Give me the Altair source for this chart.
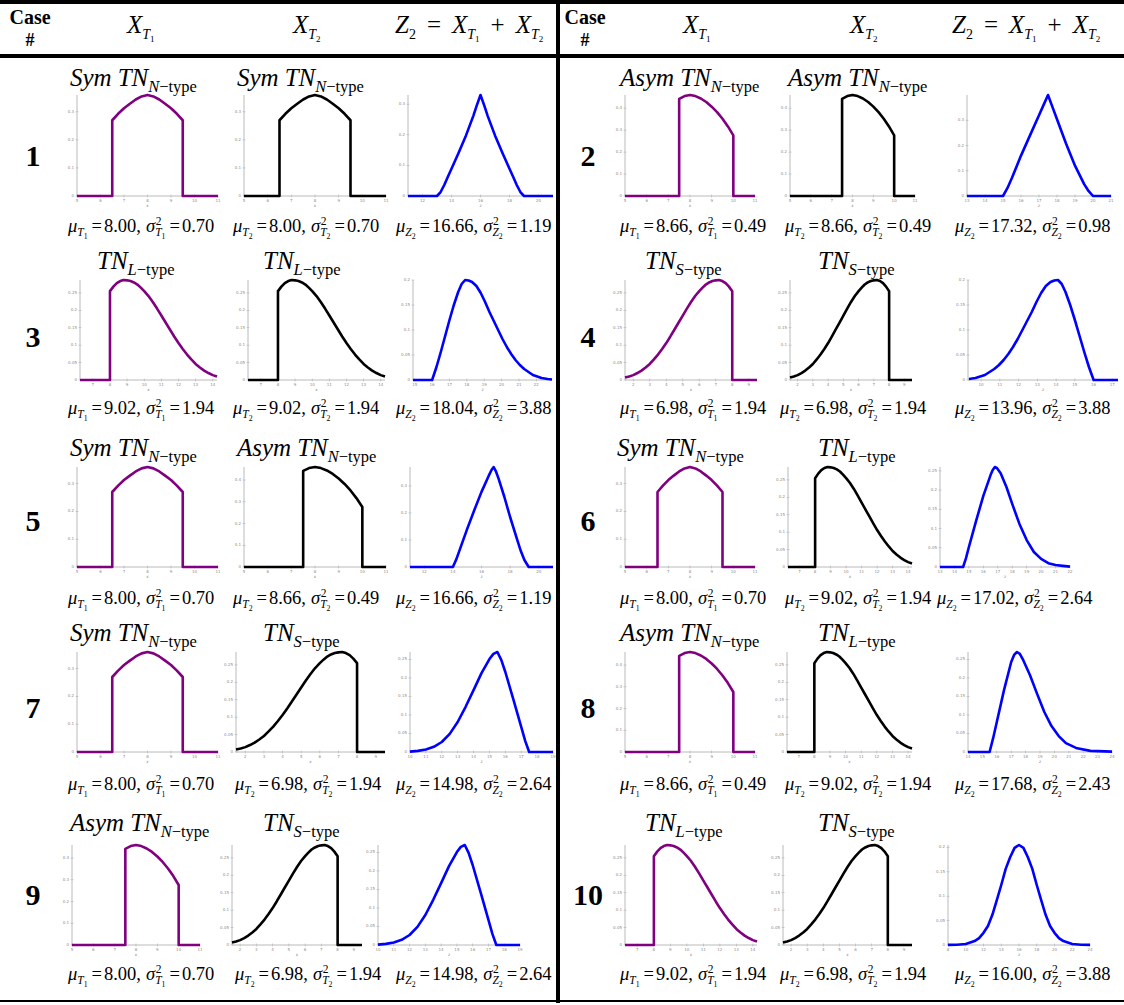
import altair as alt
import pandas as pd

W, H = 1124, 1005
FONT = "Liberation Serif"
AXIS_GRAY = "#a8a8a8"
LABEL_GRAY = "#8c8c8c"

# ---------------- component densities ----------------
SYM_N_X = [5, 6.5, 6.5, 6.75, 7.0, 7.25, 7.5, 7.75, 8.0, 8.25, 8.5, 8.75, 9.0, 9.25, 9.5, 9.5, 11]
SYM_N_Y = [0, 0, 0.270, 0.293, 0.313, 0.329, 0.344, 0.355, 0.360, 0.355, 0.344, 0.329, 0.313, 0.293, 0.270, 0, 0]

ASYM_N_X = [5, 7.5, 7.5, 7.75, 8.0, 8.25, 8.5, 8.75, 9.0, 9.25, 9.5, 9.75, 10, 10, 11]
ASYM_N_Y = [0, 0, 0.442, 0.455, 0.460, 0.455, 0.444, 0.428, 0.407, 0.382, 0.352, 0.317, 0.276, 0, 0]

L_X = [6.25, 8.0, 8.0, 8.2, 8.4, 8.6, 8.8, 9.0, 9.2, 9.4, 9.6, 9.8, 10.0, 10.25, 10.5, 10.75, 11.0,
       11.25, 11.5, 11.75, 12.0, 12.25, 12.5, 12.75, 13.0, 13.25, 13.5, 13.75, 14.0, 14.25]
L_Y = [0, 0, 0.255, 0.268, 0.278, 0.284, 0.287, 0.286, 0.284, 0.280, 0.274, 0.265, 0.255, 0.241, 0.224,
       0.205, 0.185, 0.165, 0.145, 0.125, 0.106, 0.089, 0.073, 0.059, 0.046, 0.036, 0.027, 0.020, 0.014,
       0.010]

S_X = [1.5, 1.75, 2.0, 2.25, 2.5, 2.75, 3.0, 3.25, 3.5, 3.75, 4.0, 4.25, 4.5, 4.75, 5.0, 5.25, 5.5,
       5.75, 6.0, 6.2, 6.4, 6.6, 6.8, 7.0, 7.2, 7.4, 7.6, 7.8, 8.0, 8.0, 9.5]
S_Y = [0.007, 0.010, 0.014, 0.020, 0.027, 0.036, 0.046, 0.059, 0.073, 0.089, 0.106, 0.125, 0.145, 0.165,
       0.185, 0.205, 0.224, 0.241, 0.255, 0.265, 0.274, 0.280, 0.284, 0.286, 0.287, 0.284, 0.278, 0.268,
       0.255, 0, 0]

# ---------------- densities of the sums Z2 ----------------
Z1_X = [11, 13, 13.25, 13.5, 13.75, 14, 14.5, 15, 15.5, 15.75, 16, 16.25, 16.5, 17, 17.5, 18, 18.25,
        18.5, 18.75, 19, 21]
Z1_Y = [0, 0, 0.013, 0.036, 0.063, 0.089, 0.142, 0.198, 0.261, 0.297, 0.330, 0.297, 0.261, 0.198,
        0.142, 0.089, 0.063, 0.036, 0.013, 0, 0]

Z2_X = [13, 15, 15.25, 15.5, 16, 16.5, 17, 17.25, 17.5, 17.75, 18, 18.5, 19, 19.5, 19.75, 20, 21]
Z2_Y = [0, 0, 0.032, 0.072, 0.160, 0.240, 0.320, 0.360, 0.400, 0.352, 0.304, 0.208, 0.120, 0.048,
        0.020, 0, 0]

Z3_X = [14.9, 16, 16.25, 16.5, 16.75, 17, 17.25, 17.5, 17.7, 17.9, 18.1, 18.3, 18.55, 18.8, 19.05, 19.3,
        19.55, 19.8, 20.05, 20.3, 20.55, 20.8, 21.05, 21.3, 21.55, 21.8, 22.05, 22.3, 22.65, 22.9]
Z3_Y = [0, 0, 0.026, 0.056, 0.088, 0.120, 0.150, 0.176, 0.192, 0.200, 0.199, 0.196, 0.188, 0.174, 0.156,
        0.136, 0.118, 0.100, 0.082, 0.066, 0.052, 0.040, 0.030, 0.022, 0.016, 0.010, 0.007, 0.004,
        0.002, 0.001]

Z4_X = [9.35, 9.7, 9.95, 10.2, 10.45, 10.7, 10.95, 11.2, 11.45, 11.7, 11.95, 12.2, 12.45, 12.7,
        12.95, 13.2, 13.45, 13.7, 13.9, 14.1, 14.3, 14.5, 14.75, 15, 15.25, 15.5, 15.75, 16, 17.3]
Z4_Y = [0.002, 0.004, 0.007, 0.010, 0.016, 0.022, 0.030, 0.040, 0.052, 0.066, 0.082, 0.100,
        0.118, 0.136, 0.156, 0.174, 0.188, 0.196, 0.199, 0.200, 0.192, 0.176, 0.150, 0.120, 0.088,
        0.056, 0.026, 0, 0]

Z5_X = [11, 14, 14.25, 14.5, 15, 15.5, 16, 16.5, 16.7, 16.85, 17.0, 17.2, 17.6, 18, 18.5, 18.75, 19,
        19.3, 21]
Z5_Y = [0, 0, 0.030, 0.067, 0.141, 0.211, 0.278, 0.337, 0.359, 0.370, 0.355, 0.326, 0.259, 0.185,
        0.100, 0.059, 0.026, 0, 0]

Z6_X = [13, 14.6, 14.8, 15, 15.5, 16, 16.5, 16.65, 16.8, 16.95, 17.2, 17.6, 18, 18.5, 19, 19.5, 20,
        20.5, 21, 21.5, 22]
Z6_Y = [0, 0, 0.023, 0.052, 0.120, 0.185, 0.239, 0.252, 0.260, 0.257, 0.244, 0.208, 0.164, 0.112,
        0.070, 0.039, 0.021, 0.010, 0.005, 0.003, 0.001]

Z7_X = [10, 10.5, 11, 11.5, 12, 12.5, 13, 13.5, 14, 14.5, 15, 15.25, 15.5, 15.75, 16, 16.5, 17,
        17.25, 17.5, 19]
Z7_Y = [0.001, 0.003, 0.007, 0.014, 0.027, 0.049, 0.081, 0.122, 0.167, 0.213, 0.251, 0.265, 0.270,
        0.248, 0.216, 0.143, 0.068, 0.030, 0, 0]

Z8_X = [14, 15.5, 15.75, 16, 16.5, 17, 17.2, 17.4, 17.6, 17.8, 18.3, 18.8, 19.3, 19.8, 20.3, 20.8,
        21.5, 22.5, 24]
Z8_Y = [0, 0, 0.038, 0.081, 0.167, 0.243, 0.262, 0.270, 0.265, 0.251, 0.208, 0.157, 0.108, 0.070,
        0.043, 0.024, 0.011, 0.003, 0.001]

Z10_X = [8, 9, 10, 11, 11.5, 12, 12.5, 13, 13.5, 14, 14.5, 15, 15.5, 16, 16.5, 17, 17.5, 18, 18.5,
         19, 19.5, 20, 20.5, 21, 22, 23, 24]
Z10_Y = [0.0002, 0.0006, 0.002, 0.008, 0.014, 0.025, 0.039, 0.062, 0.092, 0.123, 0.156, 0.180, 0.199,
         0.205, 0.199, 0.180, 0.156, 0.123, 0.092, 0.062, 0.039, 0.025, 0.014, 0.008, 0.002, 0.0006,
         0.0002]

# axis ranges and tick values of each small plot
SHAPES = {
    "symN": dict(x=SYM_N_X, y=SYM_N_Y, dom=[5, 11], xt=[5, 6, 7, 8, 9, 10, 11], yt=[0, 0.1, 0.2, 0.3]),
    "asymN": dict(x=ASYM_N_X, y=ASYM_N_Y, dom=[5, 11], xt=[5, 6, 7, 8, 9, 10, 11], yt=[0, 0.1, 0.2, 0.3, 0.4]),
    "L": dict(x=L_X, y=L_Y, dom=[6.25, 14.25], xt=[7, 8, 9, 10, 11, 12, 13, 14], yt=[0, 0.05, 0.1, 0.15, 0.2, 0.25]),
    "S": dict(x=S_X, y=S_Y, dom=[1.5, 9.5], xt=[2, 3, 4, 5, 6, 7, 8, 9], yt=[0, 0.05, 0.1, 0.15, 0.2, 0.25]),
    "z1": dict(x=Z1_X, y=Z1_Y, dom=[11, 21], xt=[12, 14, 16, 18, 20], yt=[0, 0.1, 0.2, 0.3]),
    "z2": dict(x=Z2_X, y=Z2_Y, dom=[13, 21], xt=list(range(13, 22)), yt=[0, 0.1, 0.2, 0.3]),
    "z3": dict(x=Z3_X, y=Z3_Y, dom=[14.9, 22.9], xt=list(range(15, 23)), yt=[0, 0.05, 0.1, 0.15, 0.2]),
    "z4": dict(x=Z4_X, y=Z4_Y, dom=[9.3, 17.3], xt=list(range(10, 18)), yt=[0, 0.05, 0.1, 0.15, 0.2]),
    "z5": dict(x=Z5_X, y=Z5_Y, dom=[11, 21], xt=[12, 14, 16, 18, 20], yt=[0, 0.1, 0.2, 0.3]),
    "z6": dict(x=Z6_X, y=Z6_Y, dom=[13, 22], xt=list(range(13, 23)), yt=[0, 0.05, 0.1, 0.15, 0.2, 0.25]),
    "z7": dict(x=Z7_X, y=Z7_Y, dom=[10, 19], xt=list(range(10, 20)), yt=[0, 0.05, 0.1, 0.15, 0.2, 0.25]),
    "z8": dict(x=Z8_X, y=Z8_Y, dom=[14, 24], xt=list(range(14, 25)), yt=[0, 0.05, 0.1, 0.15, 0.2, 0.25]),
    "z10": dict(x=Z10_X, y=Z10_Y, dom=[8, 24], xt=list(range(8, 25, 2)), yt=[0, 0.05, 0.1, 0.15, 0.2]),
}

# ---------------- cases ----------------
CASE_SHAPES = {
    1: ("symN", "symN", "z1"), 2: ("asymN", "asymN", "z2"),
    3: ("L", "L", "z3"), 4: ("S", "S", "z4"),
    5: ("symN", "asymN", "z5"), 6: ("symN", "L", "z6"),
    7: ("symN", "S", "z7"), 8: ("asymN", "L", "z8"),
    9: ("asymN", "S", "z7"), 10: ("L", "S", "z10"),
}
TYPE_LABELS = {
    1: (("Sym TN", "N"), ("Sym TN", "N")), 2: (("Asym TN", "N"), ("Asym TN", "N")),
    3: (("TN", "L"), ("TN", "L")), 4: (("TN", "S"), ("TN", "S")),
    5: (("Sym TN", "N"), ("Asym TN", "N")), 6: (("Sym TN", "N"), ("TN", "L")),
    7: (("Sym TN", "N"), ("TN", "S")), 8: (("Asym TN", "N"), ("TN", "L")),
    9: (("Asym TN", "N"), ("TN", "S")), 10: (("TN", "L"), ("TN", "S")),
}
MEANS = {1: ("8.00", "8.00", "16.66"), 2: ("8.66", "8.66", "17.32"), 3: ("9.02", "9.02", "18.04"),
         4: ("6.98", "6.98", "13.96"), 5: ("8.00", "8.66", "16.66"), 6: ("8.00", "9.02", "17.02"),
         7: ("8.00", "6.98", "14.98"), 8: ("8.66", "9.02", "17.68"), 9: ("8.00", "6.98", "14.98"),
         10: ("9.02", "6.98", "16.00")}
VARS = {1: ("0.70", "0.70", "1.19"), 2: ("0.49", "0.49", "0.98"), 3: ("1.94", "1.94", "3.88"),
        4: ("1.94", "1.94", "3.88"), 5: ("0.70", "0.49", "1.19"), 6: ("0.70", "1.94", "2.64"),
        7: ("0.70", "1.94", "2.64"), 8: ("0.49", "1.94", "2.43"), 9: ("0.70", "1.94", "2.64"),
        10: ("1.94", "1.94", "3.88")}
COLORS = ("#800080", "#000000", "#0000ff")

# ---------------- page layout (pixels) ----------------
PLOT_Y = [(95, 196), (280, 380), (467, 567), (652, 752), (845, 945)]
TYPE_Y = [86, 269, 456, 641, 831]
STAT_Y = [232, 414, 604, 790, 980]
CASE_Y = [166, 347, 531, 718, 905]
CASE_CX = (33, 588)
PLOT_X = {
    1: [(77, 218), (244, 386), (408, 553)], 2: [(625, 755), (790, 915), (967, 1111)],
    3: [(80, 217), (248, 385), (413, 552)], 4: [(625, 757), (790, 912), (968, 1118)],
    5: [(77, 218), (244, 386), (410, 553)], 6: [(625, 755), (788, 912), (940, 1070)],
    7: [(77, 218), (236, 385), (410, 553)], 8: [(625, 755), (787, 912), (968, 1112)],
    9: [(72, 200), (232, 362), (378, 520)], 10: [(625, 757), (783, 912), (948, 1090)],
}
TYPE_X = {1: (70, 237), 2: (620, 788), 3: (97, 263), 4: (645, 818), 5: (70, 237),
          6: (617, 818), 7: (70, 263), 8: (620, 818), 9: (70, 263), 10: (645, 818)}
STAT_X = {1: (68, 233, 396), 2: (620, 785, 955), 3: (68, 233, 396), 4: (620, 780, 955),
          5: (68, 233, 396), 6: (620, 785, 937), 7: (68, 235, 396), 8: (620, 785, 955),
          9: (68, 235, 396), 10: (620, 780, 955)}

# ---------------- text layout helpers ----------------
ADV = {
    "rm": {" ": .25, ".": .25, ",": .25, "=": .564, "+": .564, "\u2212": .564, "t": .278,
           "y": .5, "p": .5, "e": .444, "#": .5},
    "it": {"S": .5, "y": .444, "m": .722, " ": .25, "T": .556, "N": .667, "A": .611, "s": .389,
           "L": .556, "X": .611, "Z": .556, "\u03bc": .5, "\u03c3": .5},
    "bd": {"C": .722, "a": .5, "s": .389, "e": .444, "#": .5},
}
TXT = []


def width(t, kind, fs):
    return sum(ADV[kind].get(c, .5) for c in t) * fs


def run(x, y, parts):
    for p in parts:
        if p[0] == "gap":
            x += p[1]
            continue
        t, kind, fs, dy = p
        TXT.append(dict(t=t, px=x, py=y + dy, fs=fs, k=kind))
        x += width(t, kind, fs)
    return x


def stat(x, y, letter, idx, mu, var, fs=18.5):
    sub, sub2 = 0.62 * fs, 0.42 * fs
    x = run(x, y, [("\u03bc", "it", fs, 0), (letter, "it", sub, 0.22 * fs), (idx, "rm", sub2, 0.38 * fs),
                   ("gap", 4), ("=", "rm", fs, 0), ("gap", 2), (mu + ",", "rm", fs, 0), ("gap", 5),
                   ("\u03c3", "it", fs, 0)])
    TXT.append(dict(t="2", px=x + 0.5, py=y - 0.40 * fs, fs=sub, k="rm"))
    run(x, y, [(letter, "it", sub, 0.22 * fs), (idx, "rm", sub2, 0.38 * fs),
               ("gap", 4), ("=", "rm", fs, 0), ("gap", 2), (var, "rm", fs, 0)])


def type_label(x, y, prefix, typ):
    words = prefix.split(" ")
    parts = []
    for i, w in enumerate(words):
        if i:
            parts.append(("gap", 6))
        parts.append((w, "it", 25, 0))
    parts += [(typ, "it", 16.5, 6), ("\u2212type", "rm", 16.5, 6)]
    run(x, y, parts)


def header(x_case, x_t1, x_t2, x_z):
    cw = width("Case", "bd", 20)
    run(x_case - cw / 2, 24, [("Case", "bd", 20, 0)])
    run(x_case - 4.5, 46, [("#", "bd", 18, 0)])
    for xs, idx in ((x_t1, "1"), (x_t2, "2")):
        run(xs, 33, [("X", "it", 25, 0), ("T", "it", 14, 6), (idx, "rm", 9, 9)])
    run(x_z, 33, [("Z", "it", 25, 0), ("2", "rm", 14, 6), ("gap", 11), ("=", "rm", 25, 0), ("gap", 11),
                  ("X", "it", 25, 0), ("T", "it", 14, 6), ("1", "rm", 9, 9), ("gap", 11),
                  ("+", "rm", 25, 0), ("gap", 11), ("X", "it", 25, 0), ("T", "it", 14, 6), ("2", "rm", 9, 9)])


header(30, 127, 293, 395)
header(585, 683, 850, 952)

for case in range(1, 11):
    row, side = (case - 1) // 2, (case - 1) % 2
    num = str(case)
    nw = width(num, "bd", 30)
    run(CASE_CX[side] - nw / 2, CASE_Y[row], [(num, "bd", 30, 0)])
    for col in range(2):
        pre, typ = TYPE_LABELS[case][col]
        type_label(TYPE_X[case][col], TYPE_Y[row], pre, typ)
    for col, (letter, idx) in enumerate((("T", "1"), ("T", "2"), ("Z", "2"))):
        stat(STAT_X[case][col], STAT_Y[row], letter, idx, MEANS[case][col], VARS[case][col])

text_df = pd.DataFrame(TXT)

PX = alt.Scale(domain=[0, W], range=[0, W], nice=False, zero=False)
PY = alt.Scale(domain=[0, H], range=[0, H], nice=False, zero=False)

layers = []

# table rules: top, below the header, middle divider, bottom
rules_df = pd.DataFrame({
    "x": [0, 0, 558, 0], "x2": [W, W, 558, W],
    "y": [2, 56, 0, 1001], "y2": [2, 56, 1003, 1001], "w": [4, 4, 4, 2],
})
layers.append(alt.Chart(rules_df).mark_rule(color="black").encode(
    x=alt.X("x:Q", scale=PX, axis=None), x2="x2:Q",
    y=alt.Y("y:Q", scale=PY, axis=None), y2="y2:Q",
    strokeWidth=alt.StrokeWidth("w:Q", scale=None)))

for kind, style, weight in (("rm", "normal", "normal"), ("it", "italic", "normal"), ("bd", "normal", "bold")):
    layers.append(alt.Chart(text_df[text_df.k == kind]).mark_text(
        font=FONT, fontStyle=style, fontWeight=weight, align="left", baseline="alphabetic", color="black"
    ).encode(
        x=alt.X("px:Q", scale=PX, axis=None),
        y=alt.Y("py:Q", scale=PY, axis=None),
        text="t:N",
        size=alt.Size("fs:Q", scale=None)))


def fmt(v):
    if v == 0:
        return "0"
    return ("%.2f" % v).rstrip("0") if v * 10 != int(v * 10) else "%.1f" % v


def mini(shape, color, box, yspan, var_name):
    s = SHAPES[shape]
    (x0, x1), (yt, yb) = box, yspan
    lo, hi = s["dom"]
    ymax = max(s["y"])
    xsc = alt.Scale(domain=[lo, hi], range=[x0, x1], nice=False, zero=False)
    ysc = alt.Scale(domain=[0, ymax], range=[yb, yt], nice=False, zero=False)

    def enc(xf, yf):
        return dict(x=alt.X(xf, type="quantitative", scale=xsc, axis=None),
                    y=alt.Y(yf, type="quantitative", scale=ysc, axis=None))

    frame_df = pd.DataFrame({"x": [lo, lo, hi], "y": [ymax, 0, 0], "i": [0, 1, 2]})
    xt_df = pd.DataFrame({"x": s["xt"], "y": [0] * len(s["xt"]), "lab": [str(v) for v in s["xt"]]})
    yt_df = pd.DataFrame({"x": [lo] * len(s["yt"]), "y": s["yt"], "lab": [fmt(v) for v in s["yt"]]})
    name_df = pd.DataFrame({"x": [(lo + hi) / 2], "y": [0], "lab": [var_name]})
    curve_df = pd.DataFrame({"x": s["x"], "y": s["y"], "i": list(range(len(s["x"])))})

    frame = alt.Chart(frame_df).mark_line(color=AXIS_GRAY, strokeWidth=0.8).encode(
        order="i:Q", **enc("x", "y"))
    xticks = alt.Chart(xt_df).mark_tick(orient="vertical", size=3, thickness=0.7, color=AXIS_GRAY).encode(
        **enc("x", "y"))
    yticks = alt.Chart(yt_df).mark_tick(orient="horizontal", size=3, thickness=0.7, color=AXIS_GRAY).encode(
        **enc("x", "y"))
    xlab = alt.Chart(xt_df).mark_text(fontSize=4, dy=5, color=LABEL_GRAY, font="DejaVu Sans").encode(
        text="lab:N", **enc("x", "y"))
    ylab = alt.Chart(yt_df).mark_text(fontSize=4, dx=-3, align="right", color=LABEL_GRAY,
                                      font="DejaVu Sans").encode(text="lab:N", **enc("x", "y"))
    xname = alt.Chart(name_df).mark_text(fontSize=4, dy=10, color=LABEL_GRAY, font="DejaVu Sans").encode(
        text="lab:N", **enc("x", "y"))
    curve = alt.Chart(curve_df).mark_line(color=color, strokeWidth=2.6, strokeJoin="round").encode(
        order="i:Q", **enc("x", "y"))
    return alt.layer(frame, xticks, yticks, xlab, ylab, xname, curve)


for case in range(1, 11):
    row = (case - 1) // 2
    for col in range(3):
        layers.append(mini(CASE_SHAPES[case][col], COLORS[col], PLOT_X[case][col], PLOT_Y[row],
                           "z" if col == 2 else "x"))

chart = alt.layer(*layers).resolve_scale(
    x="independent", y="independent"
).properties(
    width=W, height=H, padding=0, autosize=alt.AutoSizeParams(type="none"), background="white"
).configure_view(stroke=None)

chart.save("out.html", embed_options={"renderer": "svg", "actions": False})
